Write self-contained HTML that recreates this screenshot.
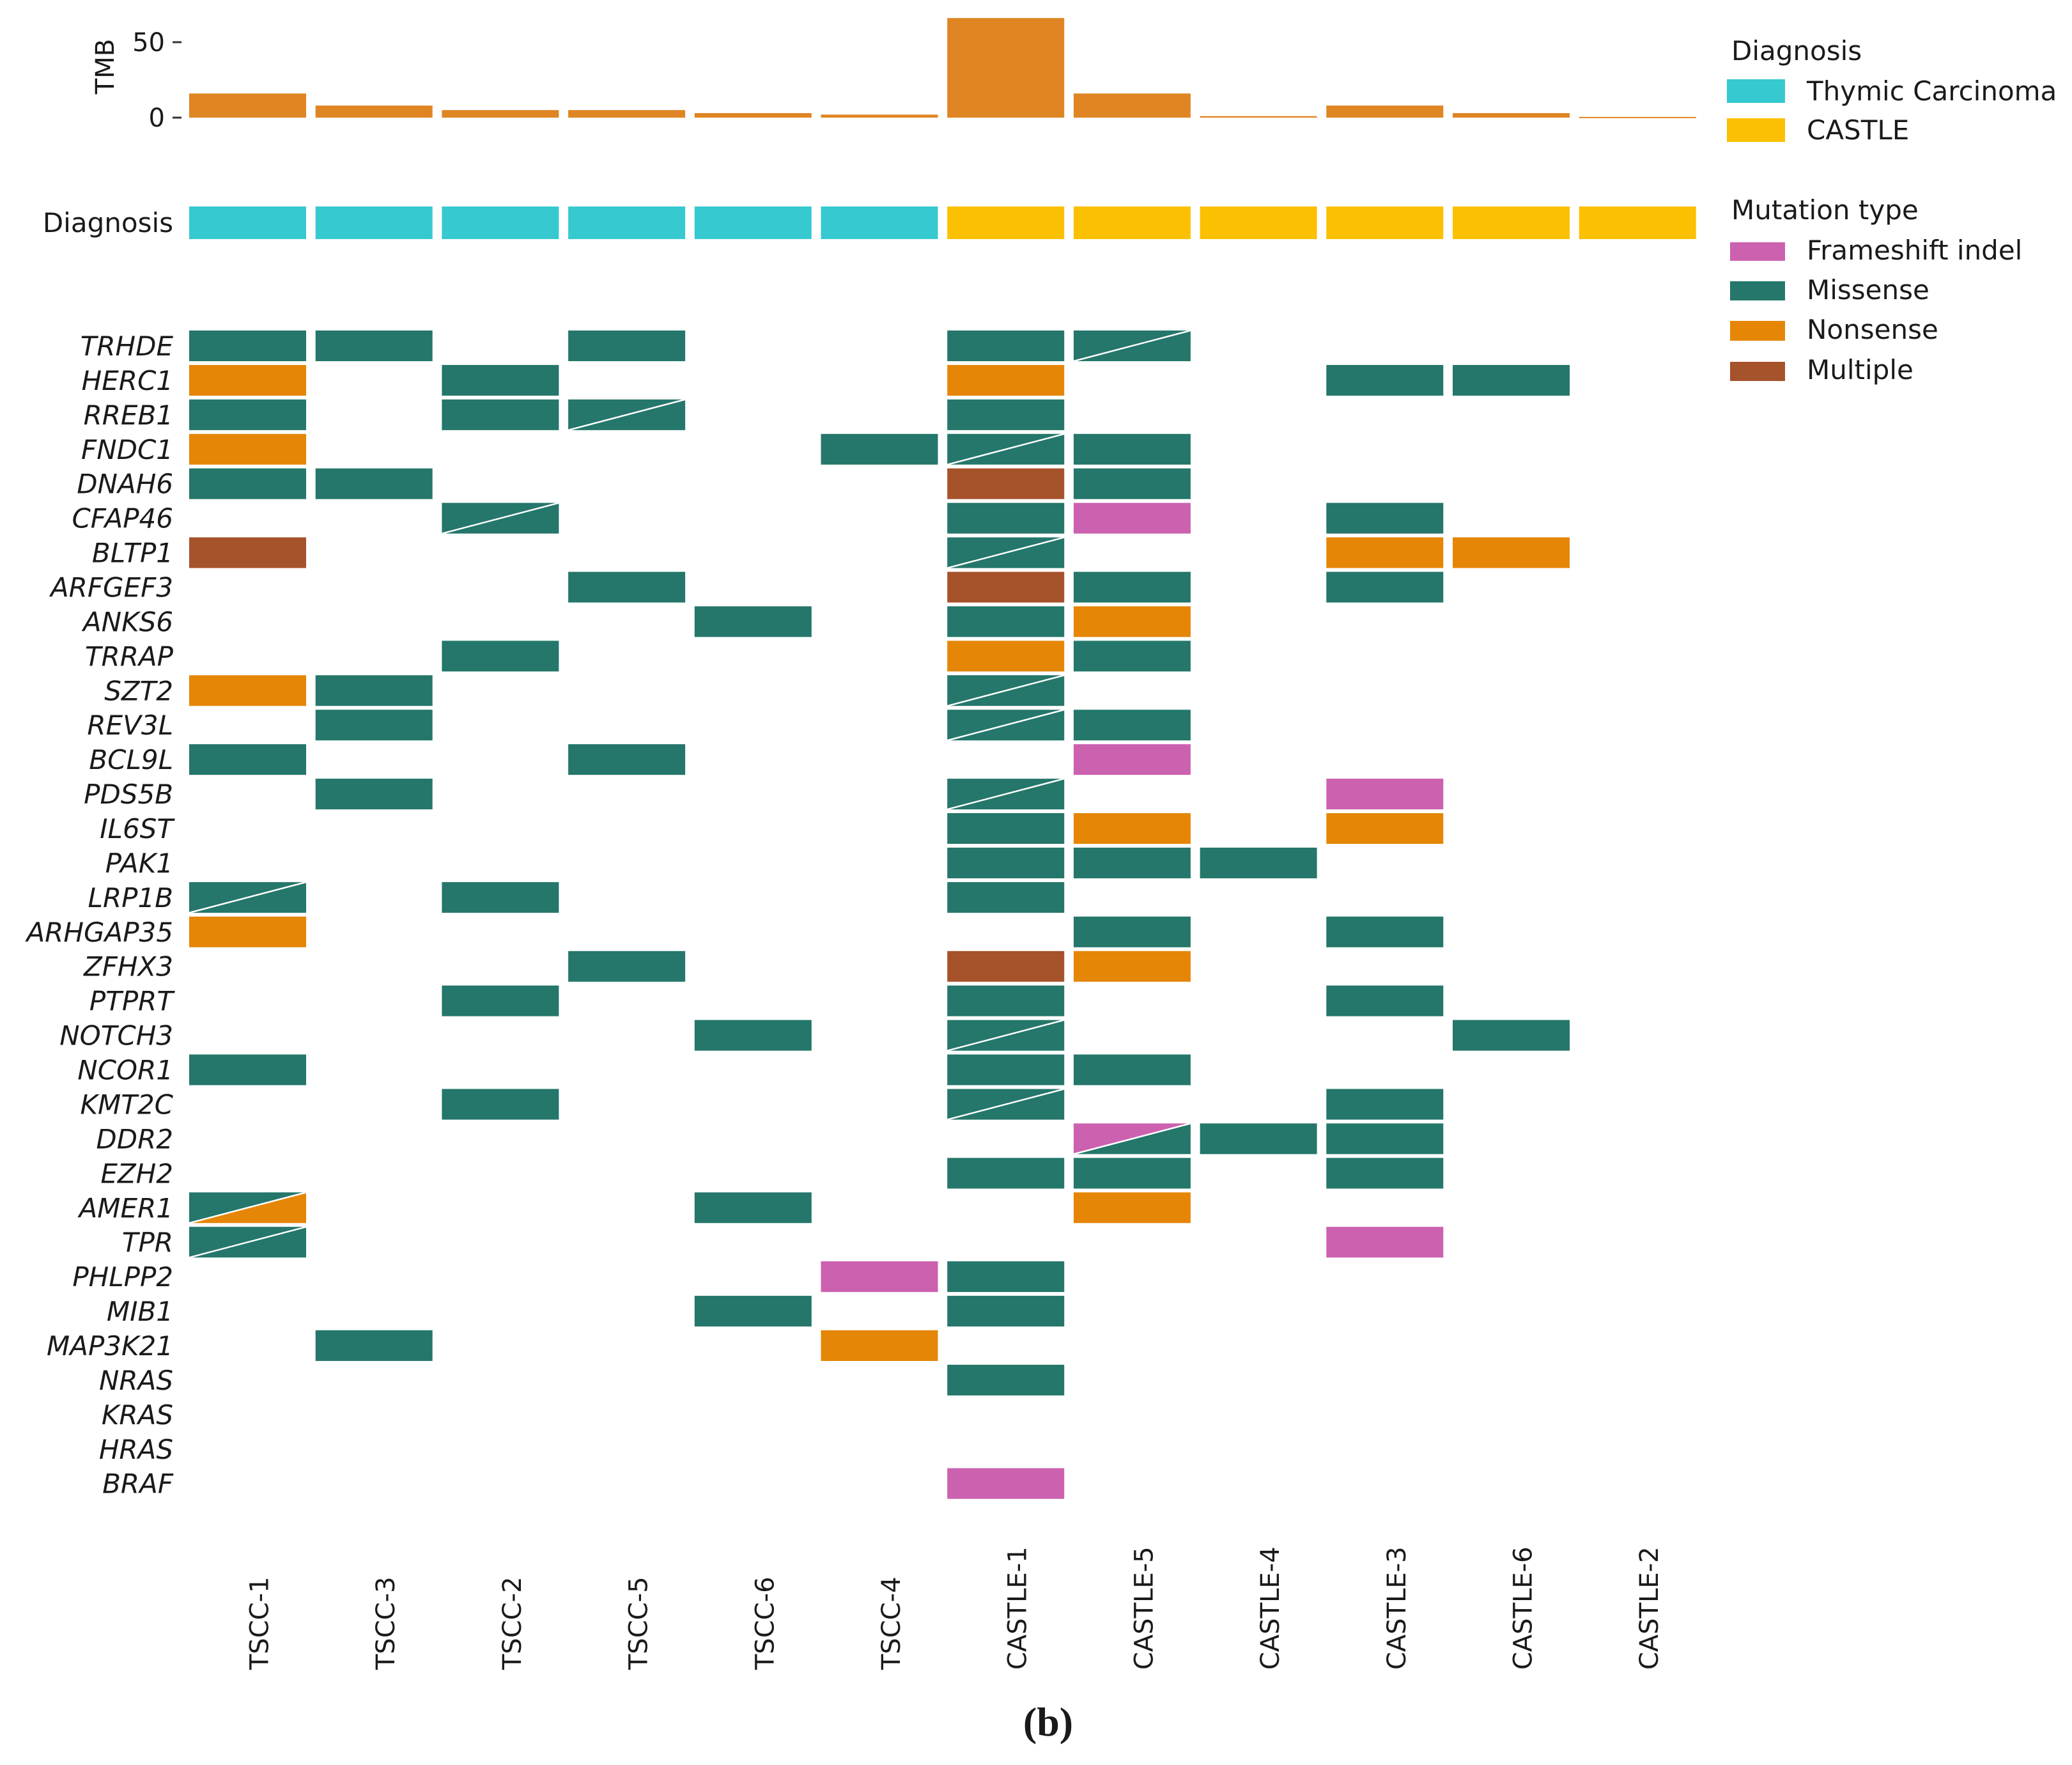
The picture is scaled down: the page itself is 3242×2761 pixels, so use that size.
<!DOCTYPE html>
<html><head><meta charset="utf-8"><style>
html,body{margin:0;padding:0;background:#fff;}
svg{display:block;}
text{font-family:"DejaVu Sans","Liberation Sans",sans-serif;fill:#1a1a1a;}
</style></head><body>
<svg id="chart" width="3242" height="2761" viewBox="0 0 3242 2761" xmlns="http://www.w3.org/2000/svg">
<rect width="3242" height="2761" fill="#fff"/>
<g id="tmb"></g>
<g id="diag"></g>
<g id="grid"></g>
<g id="glabels"></g>
<g id="slabels"></g>
<g id="legend">
  <text x="2709" y="94" font-size="42">Diagnosis</text>
  <rect x="2702" y="124" width="91" height="37" fill="#36c9cf"/>
  <text x="2827" y="157" font-size="42">Thymic Carcinoma</text>
  <rect x="2702" y="185" width="91" height="37" fill="#fbc002"/>
  <text x="2827" y="218" font-size="42">CASTLE</text>
  <text x="2709" y="343" font-size="42">Mutation type</text>
  <rect x="2707" y="379" width="86" height="29" fill="#cc61b0"/>
  <text x="2827" y="406" font-size="42">Frameshift indel</text>
  <rect x="2707" y="440" width="86" height="30" fill="#24776a"/>
  <text x="2827" y="468" font-size="42">Missense</text>
  <rect x="2707" y="502" width="86" height="31" fill="#e58606"/>
  <text x="2827" y="530" font-size="42">Nonsense</text>
  <rect x="2707" y="566" width="86" height="30" fill="#a6522b"/>
  <text x="2827" y="593" font-size="42">Multiple</text>
</g>
<text x="1640" y="2715" font-size="64" font-weight="bold" text-anchor="middle" style="font-family:'Liberation Serif',serif">(b)</text>
</svg>
<script>
const samples = ["TSCC-1","TSCC-3","TSCC-2","TSCC-5","TSCC-6","TSCC-4","CASTLE-1","CASTLE-5","CASTLE-4","CASTLE-3","CASTLE-6","CASTLE-2"];
const diagnosis = ["TC","TC","TC","TC","TC","TC","CASTLE","CASTLE","CASTLE","CASTLE","CASTLE","CASTLE"];
const tmbValues = [16,8,5,5,3,2,66,16,1,8,3,0.5];
const tmbTicks = [0,50];
const genes = ["TRHDE","HERC1","RREB1","FNDC1","DNAH6","CFAP46","BLTP1","ARFGEF3","ANKS6","TRRAP","SZT2","REV3L","BCL9L","PDS5B","IL6ST","PAK1","LRP1B","ARHGAP35","ZFHX3","PTPRT","NOTCH3","NCOR1","KMT2C","DDR2","EZH2","AMER1","TPR","PHLPP2","MIB1","MAP3K21","NRAS","KRAS","HRAS","BRAF"];
// per gene: "colIndex:type" ; types M,N,F,X or split "A/B" (upper-left / lower-right)
const mutations = [
"0:M 1:M 3:M 6:M 7:M/M",
"0:N 2:M 6:N 9:M 10:M",
"0:M 2:M 3:M/M 6:M",
"0:N 5:M 6:M/M 7:M",
"0:M 1:M 6:X 7:M",
"2:M/M 6:M 7:F 9:M",
"0:X 6:M/M 9:N 10:N",
"3:M 6:X 7:M 9:M",
"4:M 6:M 7:N",
"2:M 6:N 7:M",
"0:N 1:M 6:M/M",
"1:M 6:M/M 7:M",
"0:M 3:M 7:F",
"1:M 6:M/M 9:F",
"6:M 7:N 9:N",
"6:M 7:M 8:M",
"0:M/M 2:M 6:M",
"0:N 7:M 9:M",
"3:M 6:X 7:N",
"2:M 6:M 9:M",
"4:M 6:M/M 10:M",
"0:M 6:M 7:M",
"2:M 6:M/M 9:M",
"7:F/M 8:M 9:M",
"6:M 7:M 9:M",
"0:M/N 4:M 7:N",
"0:M/M 9:F",
"5:F 6:M",
"4:M 6:M",
"1:M 5:N",
"6:M",
"",
"",
"6:F"
];
const COL = {M:"#24776a",N:"#e58606",F:"#cc61b0",X:"#a6522b"};
const NS="http://www.w3.org/2000/svg";
const x0=296, pitch=197.7, cw=183;
const y0=517, rpitch=53.93, rh=48;
const xPos = i => x0 + i*pitch;
const yRow = r => y0 + r*rpitch;
const tmbZero=184, tmbScale=2.36;
const yT = v => tmbZero - v*tmbScale;
function mk(tag, attrs, parent){const e=document.createElementNS(NS,tag);for(const k in attrs)e.setAttribute(k,attrs[k]);parent.appendChild(e);return e;}
const tmb=document.getElementById('tmb');
tmbValues.forEach((v,i)=>{
  const r=mk('rect',{x:xPos(i),y:yT(v),width:cw,height:Math.max(tmbZero-yT(v),2),fill:'#e08523'},tmb);
  
  
});
tmbTicks.forEach(t=>{
  const tx=mk('text',{x:258,y:yT(t)+14,'font-size':40,'text-anchor':'end'},tmb);tx.textContent=t;
  
  
  const l=mk('line',{x1:270,x2:284,y1:yT(t),y2:yT(t),stroke:'#333','stroke-width':3},tmb);
  
  
});
const tl=mk('text',{x:0,y:0,'font-size':40,'text-anchor':'middle',transform:'translate(178,104) rotate(-90)'},tmb);tl.textContent='TMB';


const diag=document.getElementById('diag');
diagnosis.forEach((d,i)=>{
  const r=mk('rect',{x:xPos(i),y:323,width:cw,height:51,fill:d==='TC'?'#36c9cf':'#fbc002'},diag);
  
  
});
const dl=mk('text',{x:271,y:363,'font-size':42,'text-anchor':'end'},diag);dl.textContent='Diagnosis';


const grid=document.getElementById('grid'), gl=document.getElementById('glabels');
genes.forEach((g,r)=>{
  const t=mk('text',{x:271,y:yRow(r)+rh/2+15,'font-size':42,'text-anchor':'end','font-style':'italic'},gl);t.textContent=g;
  
  
  if(!mutations[r])return;
  mutations[r].split(' ').forEach(tok=>{
    const [c,type]=tok.split(':');const x=xPos(+c), y=yRow(r);
    const grp=mk('g',{},grid);
    
    
    if(type.includes('/')){
      const [a,b]=type.split('/');
      mk('polygon',{points:`${x},${y} ${x+cw},${y} ${x},${y+rh}`,fill:COL[a]},grp);
      mk('polygon',{points:`${x+cw},${y} ${x+cw},${y+rh} ${x},${y+rh}`,fill:COL[b]},grp);
      mk('line',{x1:x,y1:y+rh,x2:x+cw,y2:y,stroke:'#fff','stroke-width':2.5},grp);
    } else {
      mk('rect',{x:x,y:y,width:cw,height:rh,fill:COL[type]},grp);
    }
  });
});
const sl=document.getElementById('slabels');
samples.forEach((s,i)=>{
  const cx=xPos(i)+cw/2+32;
  const t=mk('text',{x:0,y:0,'font-size':40,'text-anchor':'start',transform:`translate(${cx},2612) rotate(-90)`},sl);t.textContent=s;
  
  
});
</script>
</body></html>
